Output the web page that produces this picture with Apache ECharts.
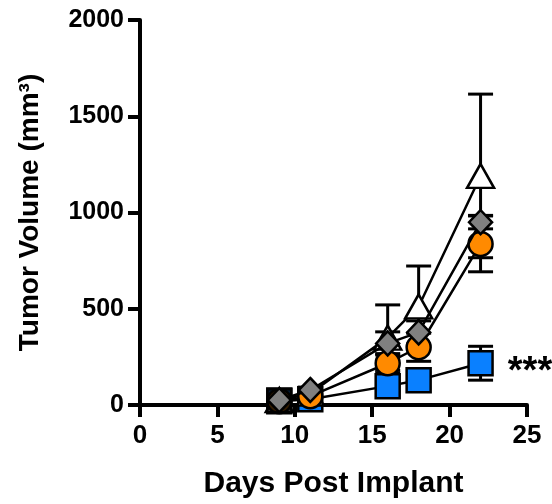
<!DOCTYPE html>
<html>
<head>
<meta charset="utf-8">
<script src="https://cdn.jsdelivr.net/npm/echarts@6/dist/echarts.min.js"></script>
<style>
  html, body { margin: 0; padding: 0; background: #fff; }
  #chart { width: 552px; height: 504px; }
</style>
</head>
<body>
<div id="chart"></div>
<script>
// days post implant
const days = [9, 11, 16, 18, 22]
// group means / SEM
const triMean = [25, 60, 350, 512, 1190]
const triErr = [10, 15, 170, 210, 425]
const diaMean = [25, 78, 320, 377, 950]
const diaErr = [10, 15, 60, 60, 35]
const cirMean = [20, 46, 217, 300, 837]
const cirErr = [8, 12, 50, 73, 145]
const sqMean = [20, 30, 98, 129, 217]
const sqErr = [8, 10, 25, 40, 88]
const blackDays = [9]
const blackMean = [25]
const xTicks = [0, 5, 10, 15, 20, 25]
const yTicks = [0, 500, 1000, 1500, 2000]

const font = 'Liberation Sans, Arial, sans-serif'

function pts(mean) {
  return days.map((d, i) => [d, mean[i]])
}
function errData(mean, err) {
  return days.map((d, i) => [d, mean[i] - err[i], mean[i] + err[i]])
}
function errSeries(mean, err, z) {
  return {
    type: 'custom',
    z: z,
    silent: true,
    data: errData(mean, err),
    renderItem: function (params, api) {
      const lo = api.coord([api.value(0), api.value(1)])
      const hi = api.coord([api.value(0), api.value(2)])
      const w = 12.5
      const style = { stroke: '#000', lineWidth: 3 }
      return {
        type: 'group',
        children: [
          { type: 'line', shape: { x1: lo[0], y1: lo[1], x2: hi[0], y2: hi[1] }, style },
          { type: 'line', shape: { x1: hi[0] - w, y1: hi[1], x2: hi[0] + w, y2: hi[1] }, style },
          { type: 'line', shape: { x1: lo[0] - w, y1: lo[1], x2: lo[0] + w, y2: lo[1] }, style }
        ]
      }
    }
  }
}
function lineSeries(name, mean, symbol, size, color, z) {
  return {
    name: name,
    type: 'line',
    z: z,
    data: pts(mean),
    symbol: symbol,
    symbolSize: size,
    showAllSymbol: true,
    lineStyle: { color: '#000', width: 2.5 },
    itemStyle: { color: color, borderColor: '#000', borderWidth: 2.5 },
    animation: false
  }
}

const chart = echarts.init(document.getElementById('chart'))

const sq = lineSeries('sq', sqMean, 'rect', 24, '#0A80FF', 3)
sq.data[4] = {
  value: [days[4], sqMean[4]],
  label: {
    show: true,
    position: 'right',
    distance: 14,
    formatter: '***',
    color: '#000',
    fontSize: 38,
    fontWeight: 'bold',
    fontFamily: font,
    offset: [0, 9]
  }
}

const option = {
  animation: false,
  grid: { left: 140, right: 25, top: 20, bottom: 97 },
  xAxis: {
    type: 'value',
    min: 0,
    max: 25,
    interval: 5,
    name: 'Days Post Implant',
    nameLocation: 'middle',
    nameGap: 64,
    nameTextStyle: { color: '#000', fontSize: 30, fontWeight: 'bold', fontFamily: font },
    axisLine: { onZero: false, lineStyle: { color: '#000', width: 4 } },
    axisTick: { show: true, length: 12, lineStyle: { color: '#000', width: 4 } },
    axisLabel: {
      color: '#000', fontSize: 26, fontWeight: 'bold', fontFamily: font, margin: 18,
      formatter: v => (xTicks.includes(v) ? String(v) : '')
    },
    splitLine: { show: false }
  },
  yAxis: {
    type: 'value',
    min: 0,
    max: 2000,
    interval: 500,
    name: 'Tumor Volume (mm³)',
    nameLocation: 'middle',
    nameGap: 96,
    nameRotate: 90,
    nameTextStyle: { color: '#000', fontSize: 28, fontWeight: 'bold', fontFamily: font },
    axisLine: { show: true, lineStyle: { color: '#000', width: 4 } },
    axisTick: { show: true, length: 12, lineStyle: { color: '#000', width: 4 } },
    axisLabel: {
      color: '#000', fontSize: 25, fontWeight: 'bold', fontFamily: font, margin: 16,
      formatter: v => (yTicks.includes(v) ? String(v) : '')
    },
    splitLine: { show: false }
  },
  series: [
    errSeries(sqMean, sqErr, 1),
    errSeries(triMean, triErr, 1),
    errSeries(cirMean, cirErr, 1),
    errSeries(diaMean, diaErr, 1),
    sq,
    lineSeries('tri', triMean, 'triangle', [27, 24], '#fff', 4),
    lineSeries('cir', cirMean, 'circle', 24, '#FF8A00', 5),
    {
      name: 'black',
      type: 'scatter',
      z: 6,
      data: blackDays.map((d, i) => [d, blackMean[i]]),
      symbol: 'rect',
      symbolSize: 24,
      itemStyle: { color: '#000', borderColor: '#000', borderWidth: 2.5 }
    },
    lineSeries('dia', diaMean, 'diamond', [23, 24], '#808080', 7)
  ]
}
chart.setOption(option)
</script>
</body>
</html>
